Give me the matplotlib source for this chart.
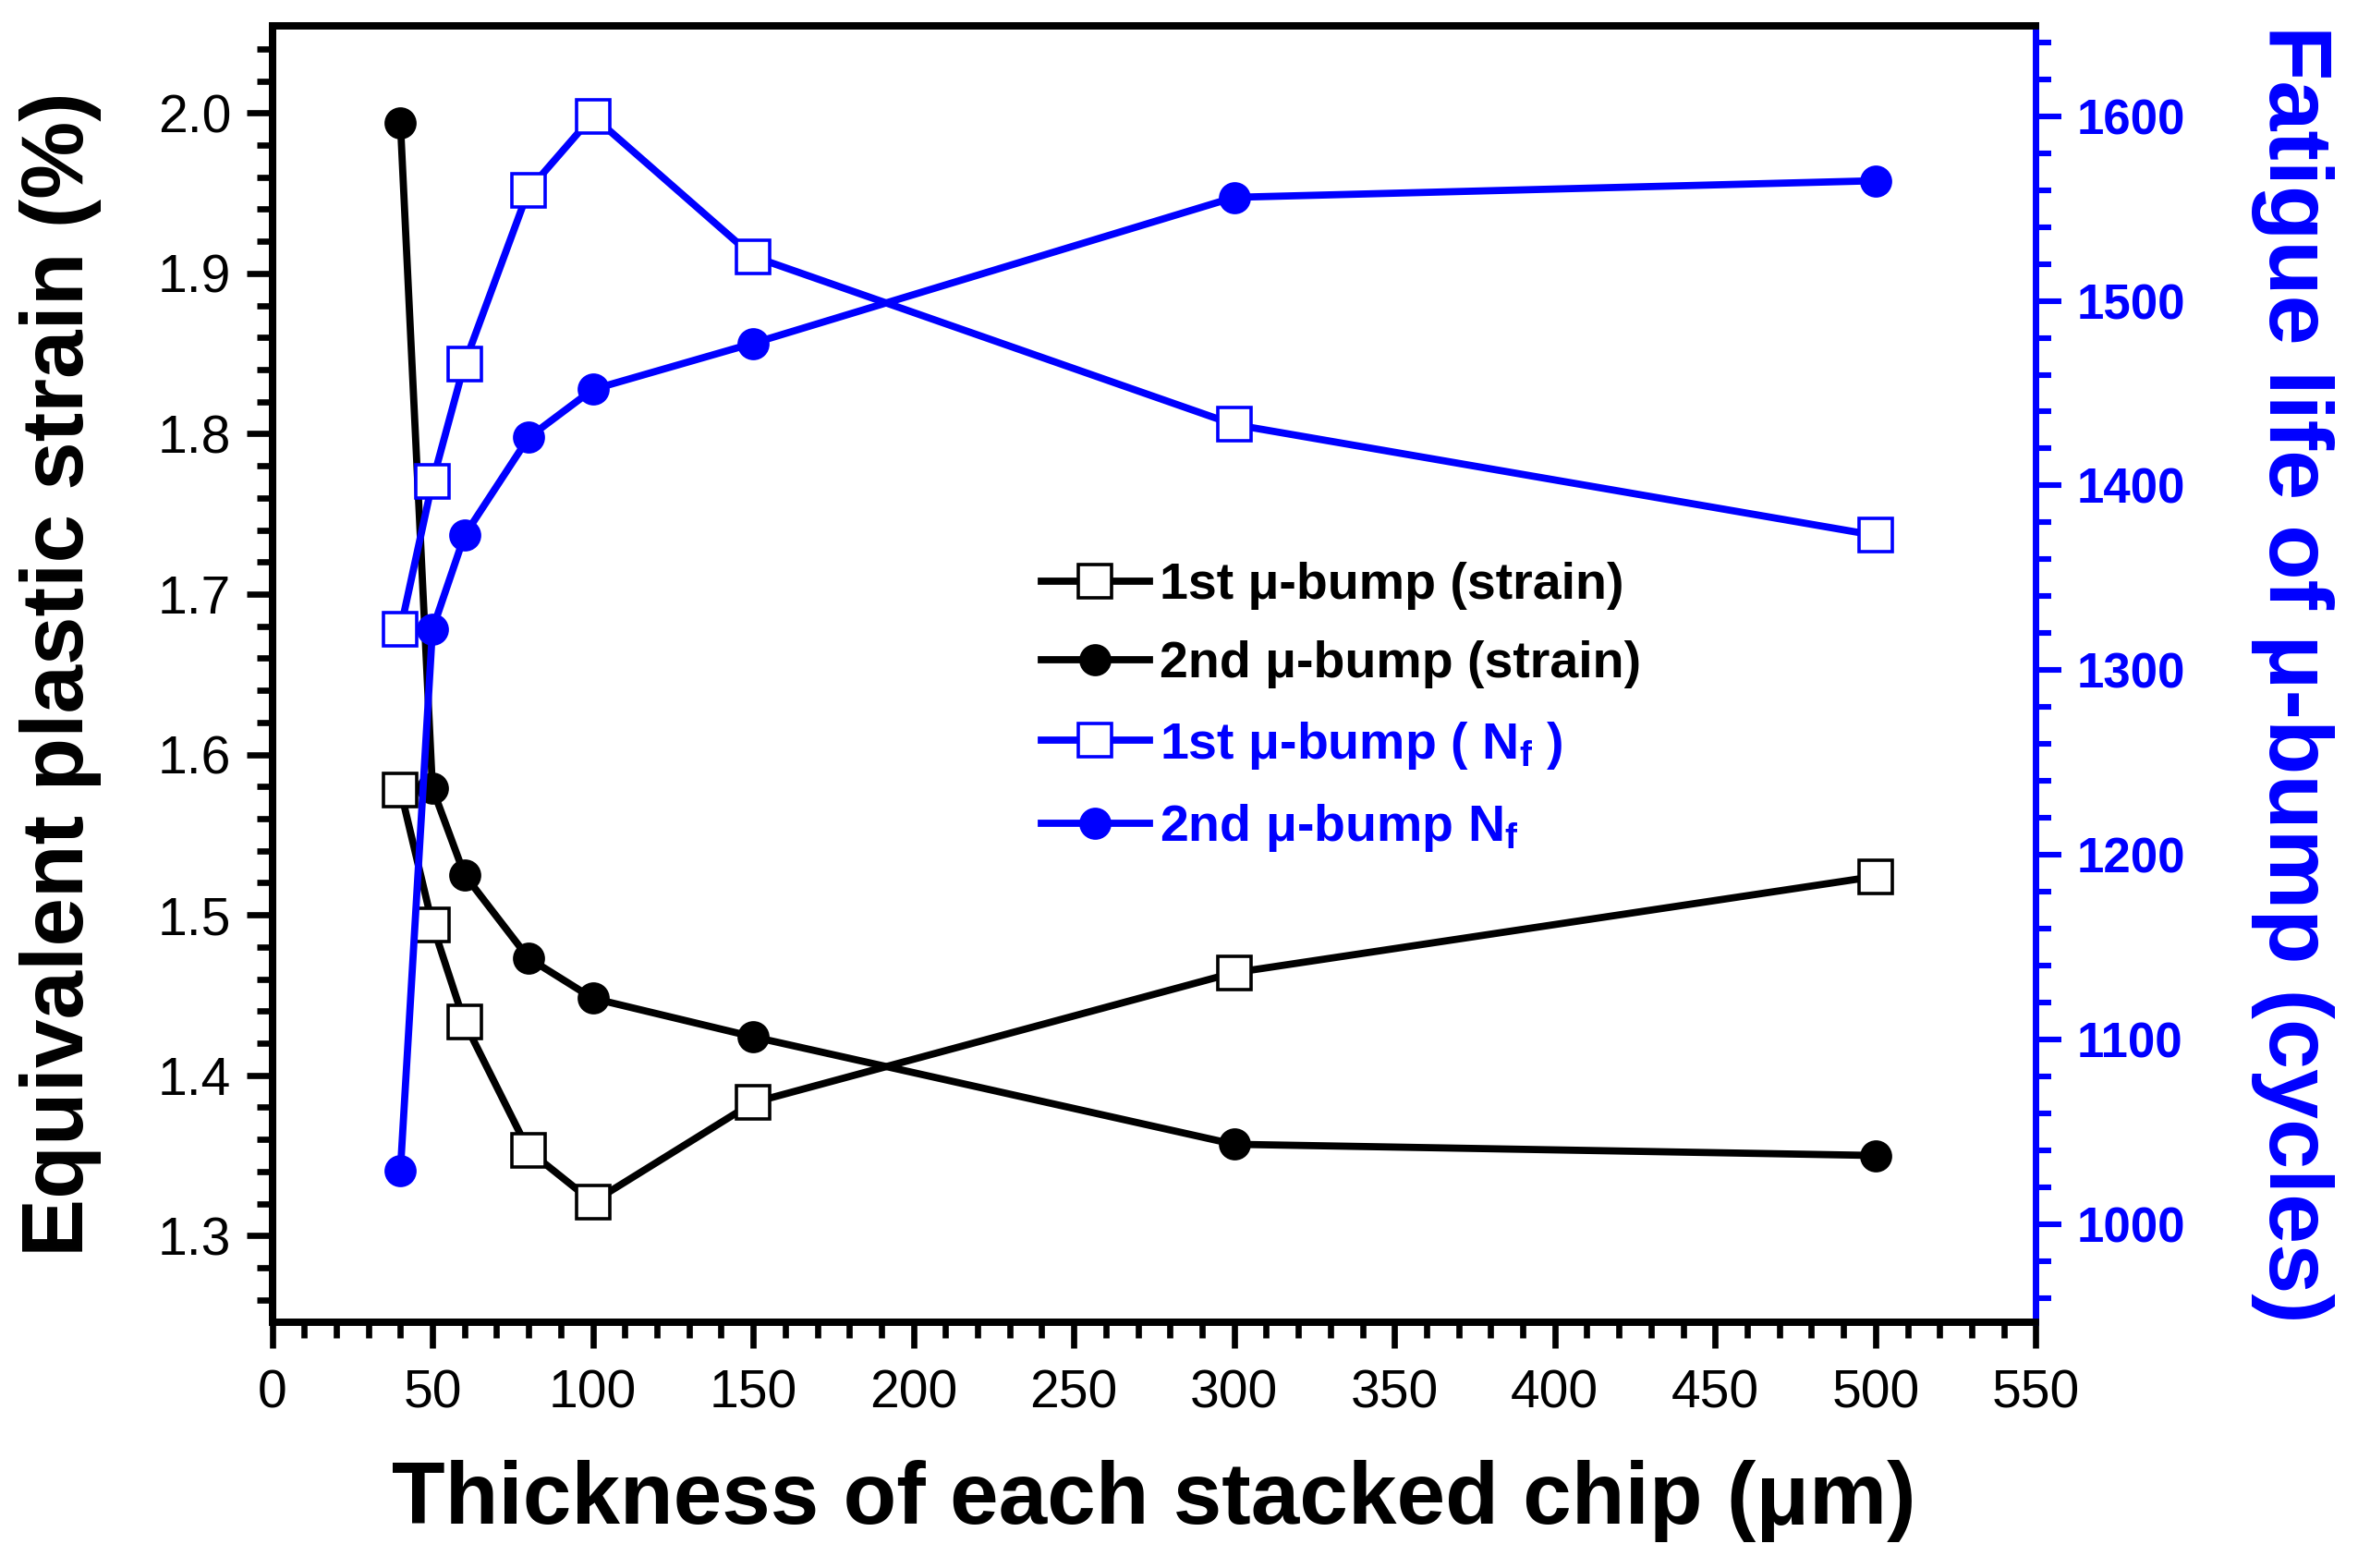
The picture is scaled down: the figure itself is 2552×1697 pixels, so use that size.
import matplotlib
matplotlib.use("Agg")
import matplotlib.pyplot as plt
from matplotlib.ticker import MultipleLocator

# thickness of each stacked chip (um)
thickness = [40, 50, 60, 80, 100, 150, 300, 500]

# equivalent plastic strain (%)
strain_1st = [1.578, 1.494, 1.433, 1.353, 1.321, 1.383, 1.464, 1.524]
strain_2nd = [1.994, 1.579, 1.525, 1.473, 1.448, 1.424, 1.357, 1.350]

# fatigue life (cycles)
nf_1st = [1322, 1402, 1466, 1560, 1600, 1524, 1433, 1373]
nf_2nd = [1029, 1322, 1373, 1426, 1452, 1477, 1556, 1565]

font = "Liberation Sans"
plt.rcParams["font.family"] = [font, "DejaVu Sans"]
plt.rcParams["mathtext.fontset"] = "custom"
plt.rcParams["mathtext.rm"] = font + ":bold"
plt.rcParams["mathtext.it"] = font + ":bold"
plt.rcParams["mathtext.bf"] = font + ":bold"
plt.rcParams["mathtext.default"] = "regular"

blue = "#0000ff"

fig = plt.figure(figsize=(12.76, 8.485), dpi=200)
ax = fig.add_axes([0.1154, 0.1567, 0.748, 0.827])
ax2 = ax.twinx()

lw = 2.8
l1, = ax.plot(thickness, strain_1st, "-", color="black", lw=lw, marker="s", ms=13,
              mfc="white", mec="black", mew=1.3, label="1st μ-bump (strain)")
l2, = ax.plot(thickness, strain_2nd, "-", color="black", lw=lw, marker="o", ms=11.5,
              mfc="black", mec="black", label="2nd μ-bump (strain)")
l3, = ax2.plot(thickness, nf_1st, "-", color=blue, lw=lw, marker="s", ms=13,
               mfc="white", mec=blue, mew=1.3, label="1st μ-bump ( N$_f$ )")
l4, = ax2.plot(thickness, nf_2nd, "-", color=blue, lw=lw, marker="o", ms=11.5,
               mfc=blue, mec=blue, label="2nd μ-bump N$_f$")

ax.set_xlim(0, 550)
ax.set_ylim(1.246, 2.0545)
ax2.set_ylim(947, 1649)

ax.xaxis.set_major_locator(MultipleLocator(50))
ax.xaxis.set_minor_locator(MultipleLocator(10))
ax.yaxis.set_major_locator(MultipleLocator(0.1))
ax.yaxis.set_minor_locator(MultipleLocator(0.02))
ax2.yaxis.set_major_locator(MultipleLocator(100))
ax2.yaxis.set_minor_locator(MultipleLocator(20))

ax.tick_params(axis="x", which="both", direction="out", top=False, width=2.4)
ax.tick_params(axis="x", which="major", length=10, pad=8)
ax.tick_params(axis="x", which="minor", length=6)
ax.tick_params(axis="y", which="both", direction="out", right=False, width=2.4)
ax.tick_params(axis="y", which="major", length=10, pad=6)
ax.tick_params(axis="y", which="minor", length=6)

# ticks on the top spine point inward
top = ax.twiny()
top.set_xlim(ax.get_xlim())
top.xaxis.set_major_locator(MultipleLocator(50))
top.xaxis.set_minor_locator(MultipleLocator(10))
top.tick_params(axis="x", which="both", direction="in", width=2.4, labeltop=False)
top.tick_params(axis="x", which="major", length=10)
top.tick_params(axis="x", which="minor", length=6)
top.set_zorder(-1)

ax2.tick_params(axis="y", which="both", direction="out", colors=blue, width=2.2)
ax2.tick_params(axis="y", which="major", length=10, pad=6)
ax2.tick_params(axis="y", which="minor", length=6)

for lab in ax.get_xticklabels() + ax.get_yticklabels():
    lab.set_fontsize(20.5)
for lab in ax2.get_yticklabels():
    lab.set_fontweight("bold")
    lab.set_fontsize(19)

for a in (ax, ax2, top):
    for side in ("left", "bottom", "top"):
        a.spines[side].set_linewidth(2.8)
        a.spines[side].set_color("black")
    a.spines["right"].set_linewidth(2.4)
    a.spines["right"].set_color(blue)

ax.set_xlabel("Thickness of each stacked chip (μm)", fontsize=34, fontweight="bold", labelpad=16)
ax.set_ylabel("Equivalent plastic strain (%)", fontsize=34, fontweight="bold", labelpad=22)
ax2.set_ylabel("Fatigue life of μ-bump (cycles)", fontsize=35, fontweight="bold",
               color=blue, rotation=270, labelpad=58)

leg = ax2.legend(handles=[l1, l2, l3, l4], loc="upper left", bbox_to_anchor=(0.41, 0.622),
                 frameon=False, handlelength=2.1, handletextpad=0.2, labelspacing=0.6,
                 prop={"family": font, "weight": "bold", "size": 20})
for txt, col in zip(leg.get_texts(), ["black", "black", blue, blue]):
    txt.set_color(col)

fig.savefig("out.png", dpi=200)
